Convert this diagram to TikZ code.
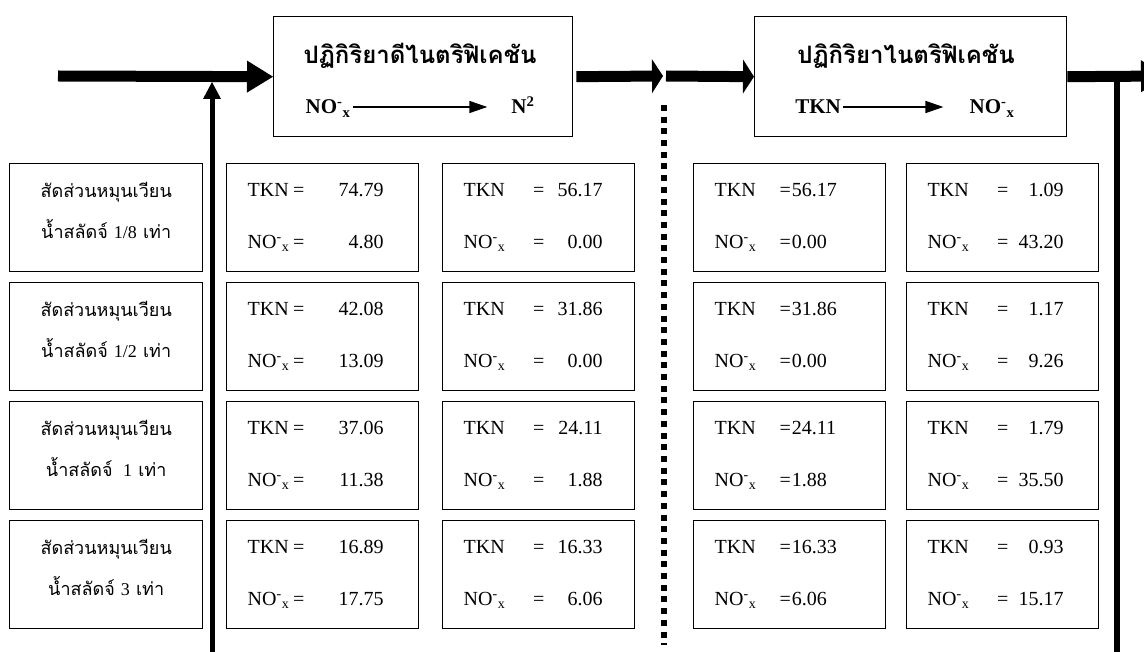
\documentclass[tikz,border=0pt]{standalone}
\usepackage{fontspec}
\setmainfont{Liberation Serif}
\newfontfamily\thaifont[Script=Thai]{Loma}
\usepackage{tikz}
\usetikzlibrary{arrows.meta,positioning}
\newcommand{\nox}{NO\textsuperscript{-}\textsubscript{x}}
\newcommand{\vals}[4]{\makebox[#1][l]{TKN}\makebox[20pt]{=}\makebox[#2][r]{#3}\\
  \makebox[#1][l]{\nox}\makebox[20pt]{=}\makebox[#2][r]{#4}}
\newcommand{\eqvals}[2]{\makebox[65pt][l]{TKN}=\kern1pt#1\\
  \makebox[65pt][l]{\nox}=\kern1pt#2}
\tikzstyle{rxnbox} = [draw, line width=1.4pt, minimum height=120pt, anchor=north west]
\tikzstyle{rxntitle} = [anchor=base, font=\thaifont\bfseries\fontsize{24}{28}\selectfont]
\tikzstyle{spec} = [font=\bfseries\fontsize{21}{24}\selectfont, text height=14pt, text depth=0pt, inner sep=2pt]
\tikzstyle{rxnarrow} = [line width=1.5pt, -{Triangle[length=18pt,width=12pt]}]
\tikzstyle{ratbox} = [draw, line width=1.4pt, minimum width=193pt, minimum height=108pt, text depth=14pt, align=center, anchor=north west, font=\thaifont\fontsize{18}{41}\selectfont]
\tikzstyle{datbox} = [draw, line width=1.4pt, minimum width=192pt, minimum height=108pt, inner xsep=21pt, text width=150pt, align=left, anchor=north west, font=\fontsize{20}{52}\selectfont]
\tikzstyle{flow} = [line width=11pt]
\tikzstyle{bighead} = [-{Triangle[length=26pt,width=32pt,line width=0pt]}]
\tikzstyle{shorthead} = [-{Triangle[length=11pt,width=34pt,line width=0pt]}]
\tikzstyle{recyc} = [line width=5pt, -{Triangle[length=17pt,width=18pt,line width=0pt]}]
\tikzstyle{drop} = [line width=6pt]
\tikzstyle{divide} = [line width=6pt, dash pattern=on 6pt off 5.7pt]
\begin{document}
\begin{tikzpicture}[x=1pt,y=-1pt]
      \clip (0,0) rectangle (1144,652);
      %%%%%%%%%%%%%%%%%%%%%%%%%%%%%%%%%%%%%%%
      \node (dn) [rxnbox, minimum width=299pt] at (273,16) {};
      \node (ni) [rxnbox, minimum width=312pt] at (754,16) {};
      \node (dntitle) [rxntitle] at (420,64) {ปฏิกิริยาดีไนตริฟิเคชัน};
      \node (nititle) [rxntitle] at (906,64) {ปฏิกิริยาไนตริฟิเคชัน};
      \node (dnfrom) [spec] at (328,107) {\nox};
      \node (dnto) [spec] at (523,107) {N\textsuperscript{2}};
      \node (nifrom) [spec] at (818,107) {TKN};
      \node (nito) [spec] at (992,107) {\nox};
      \draw[rxnarrow, shorten >=22pt] (dnfrom) -- (dnto);
      \draw[rxnarrow, shorten >=24pt] (nifrom) -- (nito);
      %%%%%%%%%%%%%%%%%%%%%%%%%%%%%%%%%%%%%%%
      \node (rat1) [ratbox] at (9,163) {สัดส่วนหมุนเวียน\\น้ำสลัดจ์ {\rmfamily 1/8} เท่า};
      \node (rat2) [ratbox] at (9,282) {สัดส่วนหมุนเวียน\\น้ำสลัดจ์ {\rmfamily 1/2} เท่า};
      \node (rat3) [ratbox] at (9,401) {สัดส่วนหมุนเวียน\\น้ำสลัดจ์ {\rmfamily\ 1} เท่า};
      \node (rat4) [ratbox] at (9,520) {สัดส่วนหมุนเวียน\\น้ำสลัดจ์ {\rmfamily 3} เท่า};
      \node (dnin1) [datbox] at (226,163) {\vals{41pt}{75pt}{74.79}{4.80}};
      \node (dnin2) [datbox] at (226,282) {\vals{41pt}{75pt}{42.08}{13.09}};
      \node (dnin3) [datbox] at (226,401) {\vals{41pt}{75pt}{37.06}{11.38}};
      \node (dnin4) [datbox] at (226,520) {\vals{41pt}{75pt}{16.89}{17.75}};
      \node (dnout1) [datbox] at (442,163) {\vals{65pt}{54pt}{56.17}{0.00}};
      \node (dnout2) [datbox] at (442,282) {\vals{65pt}{54pt}{31.86}{0.00}};
      \node (dnout3) [datbox] at (442,401) {\vals{65pt}{54pt}{24.11}{1.88}};
      \node (dnout4) [datbox] at (442,520) {\vals{65pt}{54pt}{16.33}{6.06}};
      \node (niin1) [datbox] at (693,163) {\eqvals{56.17}{0.00}};
      \node (niin2) [datbox] at (693,282) {\eqvals{31.86}{0.00}};
      \node (niin3) [datbox] at (693,401) {\eqvals{24.11}{1.88}};
      \node (niin4) [datbox] at (693,520) {\eqvals{16.33}{6.06}};
      \node (niout1) [datbox] at (906,163) {\vals{65pt}{51pt}{1.09}{43.20}};
      \node (niout2) [datbox] at (906,282) {\vals{65pt}{51pt}{1.17}{9.26}};
      \node (niout3) [datbox] at (906,401) {\vals{65pt}{51pt}{1.79}{35.50}};
      \node (niout4) [datbox] at (906,520) {\vals{65pt}{51pt}{0.93}{15.17}};
      %%%%%%%%%%%%%%%%%%%%%%%%%%%%%%%%%%%%%%%
      \coordinate (feed) at (58,76);
      \coordinate (mid) at (663,76);
      \coordinate (midnext) at (666,76);
      \coordinate (outlet) at (1167,76);
      \coordinate (rlbot) at (212,652);
      \coordinate (rltop) at (212,82);
      \coordinate (rrtop) at (1117,76);
      \coordinate (rrbot) at (1117,652);
      \coordinate (dvtop) at (664,105);
      \coordinate (dvbot) at (664,645);
      \draw[flow, bighead] (feed) -- (dn.west);
      \draw[flow, shorthead, shorten <=3pt] (dn.east) -- (mid);
      \draw[flow, shorthead] (midnext) -- (ni.west);
      \draw[flow, bighead] (ni.east) -- (outlet);
      \draw[recyc] (rlbot) -- (rltop);
      \draw[drop] (rrtop) -- (rrbot);
      \draw[divide] (dvtop) -- (dvbot);
      \end{tikzpicture}
\end{document}
